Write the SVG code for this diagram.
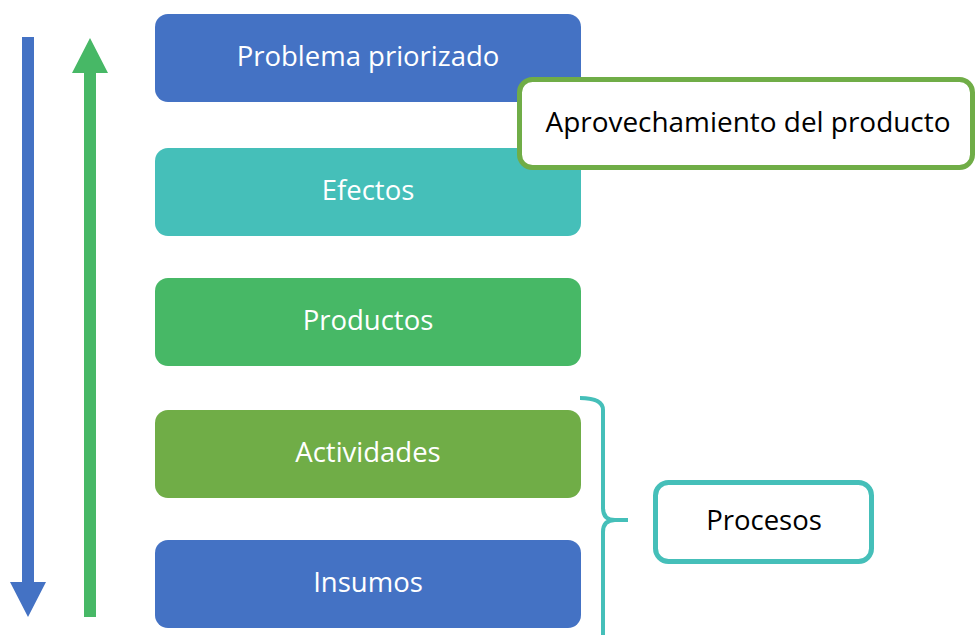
<svg xmlns="http://www.w3.org/2000/svg" width="975" height="635" viewBox="0 0 975 635">
<style>
.box text{font-family:"Open Sans","Liberation Sans",sans-serif;font-size:27.5px;fill:#ffffff;text-anchor:middle}
.lbl{font-family:"Open Sans","Liberation Sans",sans-serif;font-size:27.5px;fill:#000000;text-anchor:middle}
.outline{fill:#ffffff;stroke-width:5}
</style>
<rect width="975" height="635" fill="#ffffff"/>
<g id="arrows">
  <polygon points="22,37 34,37 34,582 46,582 28,617 10,582 22,582" fill="#4472C4"/>
  <polygon points="90,38 108,73 96,73 96,617 84,617 84,73 72,73" fill="#47B866"/>
</g>
<g id="problema" class="box">
  <rect x="155" y="14" width="426" height="88" rx="13" fill="#4472C4"/>
  <text x="368" y="66">Problema priorizado</text>
</g>
<g id="efectos" class="box">
  <rect x="155" y="148" width="426" height="88" rx="13" fill="#45BFB9"/>
  <text x="368" y="200">Efectos</text>
</g>
<g id="productos" class="box">
  <rect x="155" y="278" width="426" height="88" rx="13" fill="#47B866"/>
  <text x="368" y="330">Productos</text>
</g>
<g id="actividades" class="box">
  <rect x="155" y="410" width="426" height="88" rx="13" fill="#70AD47"/>
  <text x="368" y="462">Actividades</text>
</g>
<g id="insumos" class="box">
  <rect x="155" y="540" width="426" height="88" rx="13" fill="#4472C4"/>
  <text x="368" y="592">Insumos</text>
</g>
<g id="aprovechamiento">
  <rect class="outline" x="519.5" y="79.5" width="453" height="88" rx="13" stroke="#70AD47"/>
  <text class="lbl" x="748" y="132" textLength="405" lengthAdjust="spacingAndGlyphs">Aprovechamiento del producto</text>
</g>
<g id="connectors">
  <path d="M580,398 Q603,398 603,410 L603,508 Q603,520 615,520 L628,520 M615,520 Q603,520 603,532 L603,640" fill="none" stroke="#45BFB9" stroke-width="4"/>
</g>
<g id="procesos">
  <rect class="outline" x="655.5" y="482.5" width="216" height="79" rx="13" stroke="#45BFB9"/>
  <text class="lbl" x="764" y="530">Procesos</text>
</g>
</svg>
